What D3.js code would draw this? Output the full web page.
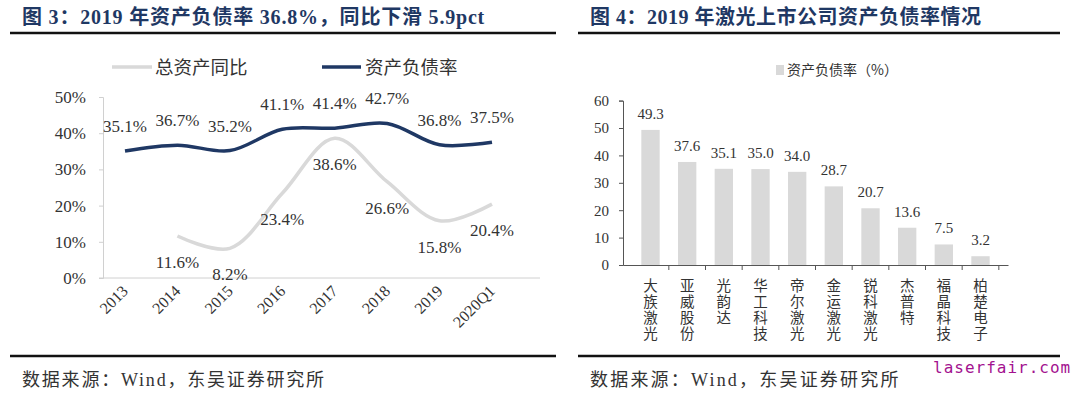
<!doctype html>
<html>
  <head>
    <meta charset="utf-8">
    <title>资产负债率</title>
    <style>
      html, body { margin: 0; padding: 0; background: #fff; }
      svg { display: block; }
      .serif { font-family: "Liberation Serif", "Noto Sans CJK SC", serif; }
      .sans { font-family: "Noto Sans CJK SC", "Noto Sans", sans-serif; }
    </style>
  </head>
  <body>
    <svg id="chart" width="1080" height="399"></svg>
    <script src="https://d3js.org/d3.v7.min.js"></script>
    <script>
      // left chart data
      var years = ["2013", "2014", "2015", "2016", "2017", "2018", "2019", "2020Q1"];
      var assetGrowth = [null, 11.6, 8.2, 23.4, 38.6, 26.6, 15.8, 20.4];
      var debtRatio = [35.1, 36.7, 35.2, 41.1, 41.4, 42.7, 36.8, 37.5];
      var leftTicks = [0, 10, 20, 30, 40, 50];

      // right chart data
      var companies = ["大族激光", "亚威股份", "光韵达", "华工科技", "帝尔激光", "金运激光", "锐科激光", "杰普特", "福晶科技", "柏楚电子"];
      var companyRatio = [49.3, 37.6, 35.1, 35.0, 34.0, 28.7, 20.7, 13.6, 7.5, 3.2];
      var rightTicks = [0, 10, 20, 30, 40, 50, 60];

      var svg = d3.select("#chart");
      var navy = "#1f3864";
      var lightGray = "#d9d9d9";
      var textCol = "#333";

      // panel frames: titles, rules, sources
      function panelFrame(x0, x1, title, ls, srcLs) {
        svg.append("text").attr("class", "serif")
          .attr("x", x0 + 12).attr("y", 24)
          .attr("font-size", 20).attr("font-weight", "bold")
          .attr("letter-spacing", ls)
          .attr("fill", navy).text(title);
        svg.append("line").attr("x1", x0).attr("x2", x1)
          .attr("y1", 33).attr("y2", 33).attr("stroke", "#111").attr("stroke-width", 2.5);
        svg.append("line").attr("x1", x0).attr("x2", x1)
          .attr("y1", 356).attr("y2", 356).attr("stroke", "#111").attr("stroke-width", 2.5);
        svg.append("text").attr("class", "serif")
          .attr("x", x0 + 12).attr("y", 386)
          .attr("font-size", 18).attr("fill", textCol)
          .attr("letter-spacing", srcLs)
          .text("数据来源：Wind，东吴证券研究所");
      }
      panelFrame(10, 556, "图 3：2019 年资产负债率 36.8%，同比下滑 5.9pct", 0.8, 1.8);
      panelFrame(578, 1060, "图 4：2019 年激光上市公司资产负债率情况", 0.5, 2.2);

      // ---------- left line chart ----------
      var x = d3.scalePoint().domain(years).range([125, 492]);
      var y = d3.scaleLinear().domain([0, 50]).range([278, 97]);

      var gL = svg.append("g");
      gL.append("g")
        .attr("transform", "translate(103,0)")
        .call(d3.axisLeft(y).tickValues(leftTicks).tickSize(4).tickFormat(function(d) { return d + "%"; }))
        .call(function(g) {
          g.select(".domain").attr("stroke", "#d0d0d0");
          g.selectAll(".tick line").attr("stroke", "#d0d0d0");
          g.selectAll(".tick text").attr("class", "serif").attr("font-size", 17)
            .attr("fill", textCol).attr("x", -17);
        });
      gL.append("line").attr("x1", 99).attr("x2", 540)
        .attr("y1", y(0)).attr("y2", y(0)).attr("stroke", "#d0d0d0");

      years.forEach(function(yr) {
        gL.append("text").attr("class", "serif")
          .attr("font-size", 16).attr("fill", textCol)
          .attr("text-anchor", "end")
          .attr("transform", "translate(" + (x(yr) + 4) + ",292) rotate(-45)")
          .text(yr);
      });

      var line = d3.line()
        .defined(function(d) { return d.v != null; })
        .x(function(d) { return x(d.k); })
        .y(function(d) { return y(d.v); })
        .curve(d3.curveCatmullRom.alpha(0.5));

      var growthData = years.map(function(k, i) { return { k: k, v: assetGrowth[i] }; });
      var ratioData = years.map(function(k, i) { return { k: k, v: debtRatio[i] }; });

      gL.append("path").datum(growthData.filter(function(d) { return d.v != null; }))
        .attr("d", line).attr("fill", "none").attr("stroke", lightGray).attr("stroke-width", 3.5);
      gL.append("path").datum(ratioData)
        .attr("d", line).attr("fill", "none").attr("stroke", navy).attr("stroke-width", 3.5);

      gL.selectAll(".lblR").data(ratioData).enter().append("text")
        .attr("class", "serif").attr("font-size", 17).attr("fill", textCol)
        .attr("text-anchor", "middle")
        .attr("x", function(d) { return x(d.k); })
        .attr("y", function(d) { return y(d.v) - 19; })
        .text(function(d) { return d.v.toFixed(1) + "%"; });
      gL.selectAll(".lblG").data(growthData.filter(function(d) { return d.v != null; })).enter().append("text")
        .attr("class", "serif").attr("font-size", 17).attr("fill", textCol)
        .attr("text-anchor", "middle")
        .attr("x", function(d) { return x(d.k); })
        .attr("y", function(d) { return y(d.v) + 32; })
        .text(function(d) { return d.v.toFixed(1) + "%"; });

      // legend
      gL.append("line").attr("x1", 112).attr("x2", 152).attr("y1", 67).attr("y2", 67)
        .attr("stroke", lightGray).attr("stroke-width", 3.5);
      gL.append("text").attr("class", "sans").attr("x", 155).attr("y", 74)
        .attr("font-size", 18.5).attr("fill", textCol).text("总资产同比");
      gL.append("line").attr("x1", 322).attr("x2", 361).attr("y1", 67).attr("y2", 67)
        .attr("stroke", navy).attr("stroke-width", 3.5);
      gL.append("text").attr("class", "sans").attr("x", 365).attr("y", 74)
        .attr("font-size", 18.5).attr("fill", textCol).text("资产负债率");

      // ---------- right bar chart ----------
      var xb = d3.scaleBand().domain(companies).range([623, 1008]).padding(0.5);
      var yb = d3.scaleLinear().domain([0, 60]).range([265, 100.6]);
      var gR = svg.append("g");

      gR.selectAll(".bar").data(companies).enter().append("rect")
        .attr("x", function(d) { return xb(d); })
        .attr("y", function(d, i) { return yb(companyRatio[i]); })
        .attr("width", xb.bandwidth())
        .attr("height", function(d, i) { return yb(0) - yb(companyRatio[i]); })
        .attr("fill", lightGray);

      gR.append("g")
        .attr("transform", "translate(623,0)")
        .call(d3.axisLeft(yb).tickValues(rightTicks).tickSize(4))
        .call(function(g) {
          g.select(".domain").attr("stroke", "#555");
          g.selectAll(".tick line").attr("stroke", "#555");
          g.selectAll(".tick text").attr("class", "serif").attr("font-size", 15)
            .attr("fill", textCol).attr("x", -14);
        });

      var xAxisB = d3.axisBottom(xb).tickSize(0).tickFormat("");
      gR.append("g").attr("transform", "translate(0," + yb(0) + ")")
        .call(xAxisB)
        .call(function(g) { g.select(".domain").attr("stroke", "#555"); });
      // separators between categories
      gR.selectAll(".sep").data(companies).enter().append("line")
        .attr("x1", function(d) { return xb(d) - xb.step() * xb.paddingInner() / 2 + xb.step(); })
        .attr("x2", function(d) { return xb(d) - xb.step() * xb.paddingInner() / 2 + xb.step(); })
        .attr("y1", yb(0)).attr("y2", yb(0) + 5).attr("stroke", "#555");

      gR.selectAll(".val").data(companies).enter().append("text")
        .attr("class", "serif").attr("font-size", 15).attr("fill", textCol)
        .attr("text-anchor", "middle")
        .attr("x", function(d) { return xb(d) + xb.bandwidth() / 2; })
        .attr("y", function(d, i) { return yb(companyRatio[i]) - 11; })
        .text(function(d, i) { return companyRatio[i].toFixed(1); });

      // vertical category names, one character per row
      companies.forEach(function(d) {
        var cx = xb(d) + xb.bandwidth() / 2;
        d.split("").forEach(function(ch, j) {
          gR.append("text").attr("class", "sans").attr("font-size", 14.5).attr("fill", textCol)
            .attr("text-anchor", "middle")
            .attr("x", cx).attr("y", 291 + j * 16)
            .text(ch);
        });
      });

      // legend
      gR.append("rect").attr("x", 776).attr("y", 65).attr("width", 8).attr("height", 10).attr("fill", lightGray);
      gR.append("text").attr("class", "sans").attr("x", 787).attr("y", 75)
        .attr("font-size", 14).attr("fill", textCol).text("资产负债率（%）");

      // watermark
      svg.append("text").attr("x", 933).attr("y", 373)
        .attr("font-family", "DejaVu Sans Mono, monospace").attr("font-size", 16)
        .attr("letter-spacing", 1).attr("fill", "#a3128f").text("laserfair.com");
    </script>
  </body>
</html>
